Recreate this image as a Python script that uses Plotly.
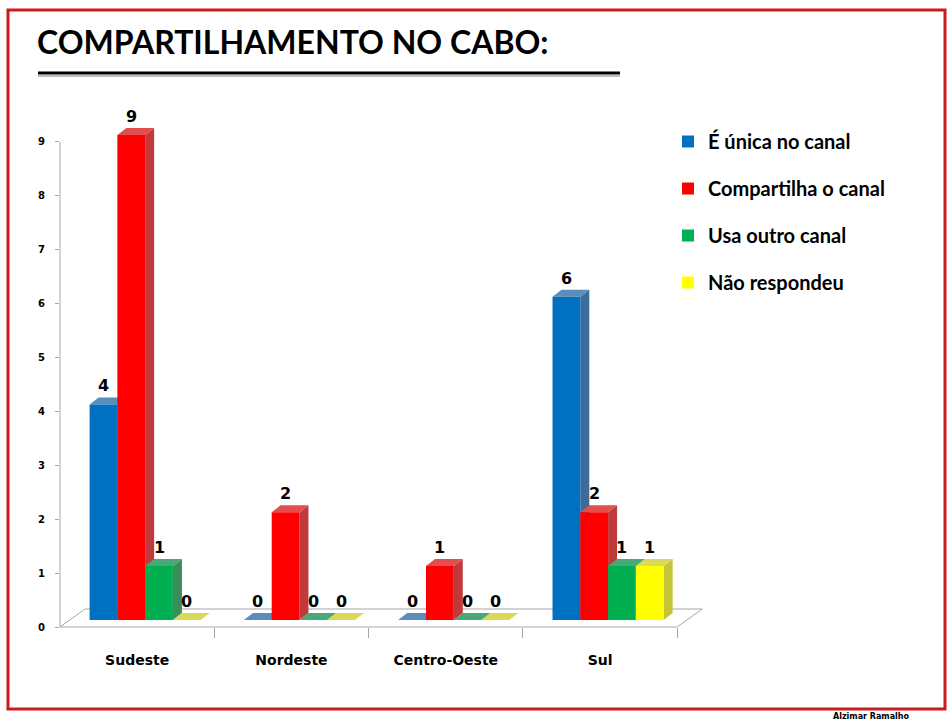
import plotly.graph_objects as go

# ---------------- data ----------------
regions = ["Sudeste", "Nordeste", "Centro-Oeste", "Sul"]
series_names = ["É única no canal", "Compartilha o canal", "Usa outro canal", "Não respondeu"]
unica = [4, 0, 0, 6]
compartilha = [9, 2, 1, 2]
outro = [1, 0, 0, 1]
nao_resp = [0, 0, 0, 1]
y_ticks = [0, 1, 2, 3, 4, 5, 6, 7, 8, 9]

series_values = [unica, compartilha, outro, nao_resp]
front_colors = ["#0070C0", "#FF0000", "#00B050", "#FFFF00"]
side_colors = ["#3B6C9C", "#C0393B", "#3A8C5C", "#C4C436"]
top_colors = ["#5A8CBC", "#E24E4E", "#48A877", "#DADA58"]

# ---------------- geometry (layout) ----------------
W, H = 949, 722
ML, MR, MT, MB = 60, 244, 115, 95
X_RANGE = [-0.5, 3.68]
Y_RANGE = [0, 9.5]
plot_w = W - ML - MR
plot_h = H - MT - MB
px_x = plot_w / (X_RANGE[1] - X_RANGE[0])   # pixels per x unit
px_y = plot_h / (Y_RANGE[1] - Y_RANGE[0])   # pixels per y unit

BAR_W = 0.18
SHIFT_X = 8 / px_x         # bars sit a bit back on the 3D floor
BASE = 7 / px_y
DX = 9 / px_x              # bar depth
DY = 7 / px_y
FDX = 25 / px_x            # floor depth
FDY = 18 / px_y


def paper_x(px):
    return (px - ML) / plot_w


def paper_y(py):
    return (H - MB - py) / plot_h


fig = go.Figure()
shapes = []
annotations = []

# floor (3D base)
shapes.append(dict(type="path", xref="x", yref="y", layer="below",
                   path=f"M{X_RANGE[0]},0 L{X_RANGE[0] + FDX},{FDY} L{3.5 + FDX},{FDY} L3.5,0",
                   line=dict(color="#A6A6A6", width=1)))

for s, (name, vals) in enumerate(zip(series_names, series_values)):
    xs = [i + SHIFT_X + (s - 1.5) * BAR_W for i in range(len(regions))]
    fig.add_trace(go.Bar(
        x=xs, y=vals, base=BASE, width=BAR_W, name=name,
        marker=dict(color=front_colors[s], line=dict(width=0)),
        legendgroup=str(s), hoverinfo="skip",
    ))

# 3D faces, drawn in left-to-right order below the front faces
for i in range(len(regions)):
    for s in range(len(series_names)):
        v = series_values[s][i]
        xc = i + SHIFT_X + (s - 1.5) * BAR_W
        x0 = xc - BAR_W / 2
        x1 = xc + BAR_W / 2
        y0 = BASE
        y1 = BASE + v
        if v > 0:
            shapes.append(dict(type="path", xref="x", yref="y", layer="below",
                               path=f"M{x1},{y0} L{x1 + DX},{y0 + DY} L{x1 + DX},{y1 + DY} L{x1},{y1} Z",
                               fillcolor=side_colors[s], line=dict(width=0)))
        shapes.append(dict(type="path", xref="x", yref="y", layer="below",
                           path=f"M{x0},{y1} L{x1},{y1} L{x1 + DX},{y1 + DY} L{x0 + DX},{y1 + DY} Z",
                           fillcolor=top_colors[s], line=dict(width=0)))
        annotations.append(dict(x=xc, y=y1, xref="x", yref="y", text=str(v),
                                showarrow=False, yanchor="bottom", yshift=7,
                                font=dict(family="DejaVu Sans", size=16, color="black", weight="bold")))

# axis lines (front edge of the floor and the value axis)
shapes.append(dict(type="line", xref="x", yref="paper", x0=X_RANGE[0], x1=3.5, y0=0, y1=0,
                   line=dict(color="#A6A6A6", width=1)))
shapes.append(dict(type="line", xref="paper", yref="y", x0=0, x1=0, y0=0, y1=9,
                   line=dict(color="#A6A6A6", width=1)))

# title underline
shapes.append(dict(type="line", xref="paper", yref="paper",
                   x0=paper_x(38), x1=paper_x(620), y0=paper_y(76), y1=paper_y(76),
                   line=dict(color="#BDBDBD", width=2)))
shapes.append(dict(type="line", xref="paper", yref="paper",
                   x0=paper_x(38), x1=paper_x(620), y0=paper_y(73), y1=paper_y(73),
                   line=dict(color="black", width=3)))

# red frame
shapes.append(dict(type="rect", xref="paper", yref="paper",
                   x0=paper_x(8), x1=paper_x(945), y0=paper_y(709), y1=paper_y(10),
                   line=dict(color="#CC1B1F", width=3), fillcolor="rgba(0,0,0,0)", layer="above"))

annotations.append(dict(xref="paper", yref="paper", x=paper_x(912), y=paper_y(716),
                        text="Alzimar Ramalho", showarrow=False, yanchor="middle",
                        font=dict(family="DejaVu Sans", size=8, color="black", weight="bold")))

fig.update_layout(
    width=W, height=H,
    margin=dict(l=ML, r=MR, t=MT, b=MB),
    paper_bgcolor="white", plot_bgcolor="white",
    barmode="overlay",
    title=dict(text="COMPARTILHAMENTO NO CABO:", xref="container", yref="container",
               x=37 / W, y=1 - 43 / H, xanchor="left", yanchor="middle",
               font=dict(family="Lato", size=32, color="black", weight="bold")),
    showlegend=True,
    legend=dict(x=paper_x(668), y=paper_y(122), xanchor="left", yanchor="top",
                font=dict(family="Lato", size=20, color="black", weight="bold"),
                tracegroupgap=18, bgcolor="rgba(0,0,0,0)"),
    shapes=shapes,
    annotations=annotations,
    xaxis=dict(range=X_RANGE, tickvals=list(range(len(regions))), ticktext=regions,
               ticks="", showline=False, showgrid=False, zeroline=False,
               tickfont=dict(family="DejaVu Sans", size=14, color="black", weight="bold"),
               ticklabelstandoff=23,
               minor=dict(tickvals=[0.5, 1.5, 2.5, 3.5], ticks="outside", ticklen=10,
                          tickcolor="#A6A6A6", showgrid=False)),
    yaxis=dict(range=Y_RANGE, tickvals=y_ticks, ticks="outside", ticklen=4,
               tickcolor="#A6A6A6", showline=False, showgrid=False, zeroline=False,
               tickfont=dict(family="DejaVu Sans", size=10, color="black", weight="bold"),
               ticklabelstandoff=8),
)

fig.write_html("out.html")
